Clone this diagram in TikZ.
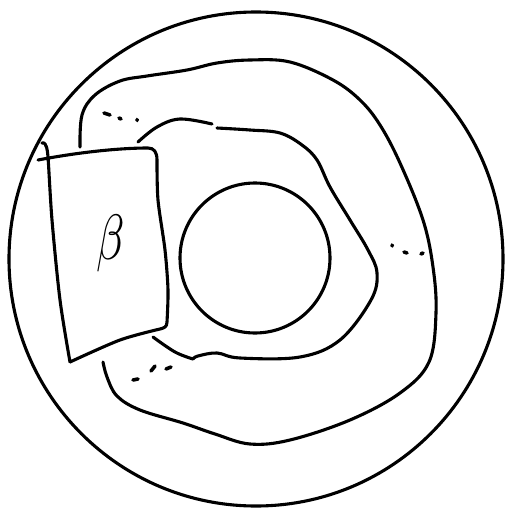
\documentclass[tikz,border=0pt]{standalone}
\begin{document}
\begin{tikzpicture}[x=1pt,y=-1pt,line cap=round,line join=round,
  ink/.style={line width=3.1pt},
  dotmark/.style={line width=3.6pt}]
\useasboundingbox (0,0) rectangle (512,514);
% outer and inner discs
\draw[ink] (256,259) circle[radius=247];
\draw[ink] (255,258) circle[radius=75];
% box
\draw[ink] (38,160) .. controls (80,152) and (120,148) .. (148,148)
  .. controls (154,148) and (157,152) .. (157,160)
  plot[smooth] coordinates {(157,160) (158,200) (165,250) (168,290) (167,322)}
  .. controls (167,327) and (164,328) .. (160,329)
  plot[smooth] coordinates {(160,329) (120,340) (70,362)}
  plot[smooth] coordinates {(70,362) (60,300) (52,220) (48,157) (46,146)};
\draw[ink] (46,146) .. controls (45,143) and (43,142) .. (42,143);
\node[xscale=4.6,yscale=6.4] (beta) at (111,243) {$\beta$};
% outer strand
\draw[ink] plot[smooth,tension=0.6] coordinates {(80,147) (82,115) (95,95) (120,81) (147,76)
  (187,70) (217,63) (250,60) (290,62) (333,80) (360,100) (380,125) (400,163)
  (423,220) (433,267) (436,313) (429,362) (400,393) (350,420) (290,440)
  (250,444) (215,434) (183,423) (140,410) (117,396) (107,377) (103,362)};
% inner strand
\draw[ink] plot[smooth,tension=0.6] coordinates {(138,142) (157,127) (180,119) (212,124)};
\draw[ink] plot[smooth,tension=0.6] coordinates {(217,128) (250,130) (280,133) (302,145)
  (317,160) (330,187) (350,220) (368,250) (377,273) (371,300) (340,340)
  (300,357) (240,358) (217,353) (198,356) (193,359)};
\draw[ink] plot[smooth,tension=0.6] coordinates {(193,359) (175,352) (153,337)};
% dots
\draw[dotmark] (104,113) -- (110,115);
\draw[dotmark] (119,118) -- (121,119);
\draw[dotmark] (137,119.5) -- (137.2,120.5);
\draw[dotmark] (392,245) -- (392.3,246);
\draw[dotmark] (404,252) -- (407,253);
\draw[dotmark] (421,254) -- (423,253);
\draw[dotmark] (133,380) -- (138,379);
\draw[dotmark] (151,371) -- (155,366);
\draw[dotmark] (166,369) -- (171,367);
\end{tikzpicture}
\end{document}
